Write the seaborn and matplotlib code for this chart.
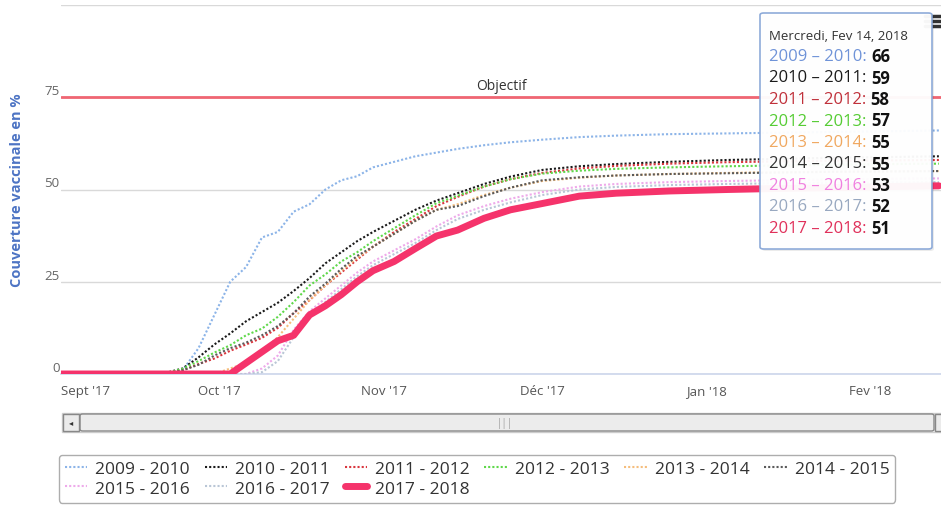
import pandas as pd
import numpy as np
import matplotlib
matplotlib.use("Agg")
import matplotlib.pyplot as plt
from matplotlib.lines import Line2D
from matplotlib.patches import FancyBboxPatch, Rectangle
import seaborn as sns

# --- data (couverture vaccinale, %) ---
dates = ['2017-09-01', '2017-09-20', '2017-09-24', '2017-09-27', '2017-09-30',
         '2017-10-03', '2017-10-06', '2017-10-09', '2017-10-12', '2017-10-15',
         '2017-10-18', '2017-10-21', '2017-10-24', '2017-10-27', '2017-10-30',
         '2017-11-03', '2017-11-07', '2017-11-11', '2017-11-15', '2017-11-20',
         '2017-11-25', '2017-12-01', '2017-12-08', '2017-12-15', '2017-12-25',
         '2018-01-05', '2018-01-15', '2018-01-25', '2018-02-05', '2018-02-14']

s_2009_2010 = [0, 0, 1, 7, 16, 25, 29, 37, 38.5, 44, 46, 50, 52.5, 53.6, 56,
               57.5, 59, 60, 61, 62, 62.8, 63.5, 64.2, 64.6, 65, 65.2, 65.4, 65.6, 65.8, 66]
s_2010_2011 = [0, 0, 1.5, 4.5, 8, 11, 14.3, 16.8, 19.3, 22.5, 26, 30, 33, 36, 38.5,
               41.5, 44.5, 47, 49, 51.5, 53.5, 55.3, 56.3, 56.9, 57.5, 58, 58.3, 58.6, 58.8, 59]
s_2011_2012 = [0, 0, 1, 2.7, 4.2, 6.3, 8, 9.8, 12.5, 16.5, 20, 24, 27.5, 31, 34.5,
               38.5, 42, 45.5, 48, 50.8, 52.8, 54.5, 55.7, 56.4, 57, 57.4, 57.6, 57.8, 57.9, 58]
s_2012_2013 = [0, 0, 1.4, 3.5, 5.8, 7.8, 10.5, 12.3, 15.5, 19.5, 24, 27, 30.5, 33, 36,
               39.5, 43, 46.3, 48.3, 50.8, 52.8, 54.3, 55.1, 55.6, 56, 56.3, 56.5, 56.7, 56.9, 57]
s_2013_2014 = [0, 0, 0, 0, 0, 1.5, 3, 6, 10, 15, 20, 24, 28, 31.5, 34.5,
               38, 41.5, 44.5, 46, 48.5, 50.5, 52.3, 53.2, 53.8, 54.2, 54.5, 54.7, 54.8, 54.9, 55]
s_2014_2015 = [0, 0, 1, 2.5, 5, 7, 8.5, 10.5, 13, 16.5, 21, 24.5, 28.5, 32, 34.5,
               38, 41.5, 44.5, 45.5, 48.2, 50.5, 52.5, 53.3, 53.8, 54.2, 54.4, 54.6, 54.8, 54.9, 55]
s_2015_2016 = [0, 0, 0, 0, 0, 0, 0, 1.5, 5, 12, 17, 20.5, 24, 27.5, 30.5,
               33.5, 36.5, 40, 43, 45.5, 47.5, 49.3, 50.8, 51.5, 52, 52.3, 52.5, 52.7, 52.9, 53]
s_2016_2017 = [0, 0, 0, 0, 0, 0, 0, 0.5, 3.5, 10, 16, 19.5, 23, 26.5, 29.5,
               32.5, 35.5, 39, 42, 44.5, 46.5, 48.5, 50, 50.7, 51.2, 51.5, 51.7, 51.8, 51.9, 52]
s_2017_2018 = [0, 0, 0, 0, 0, 0, 3, 6, 9, 10.5, 16, 18.5, 21.5, 25, 28,
               30.5, 34, 37.4, 39, 42.2, 44.5, 46.2, 48.2, 49, 49.6, 50, 50.3, 50.5, 50.8, 51]

saisons = ['2009 - 2010', '2010 - 2011', '2011 - 2012', '2012 - 2013', '2013 - 2014',
           '2014 - 2015', '2015 - 2016', '2016 - 2017', '2017 - 2018']
tooltip_values = [66, 59, 58, 57, 55, 55, 53, 52, 51]

month_ticks = ['2017-09-01', '2017-10-01', '2017-11-01', '2017-12-01', '2018-01-01', '2018-02-01']
month_labels = ["Sept '17", "Oct '17", "Nov '17", "Déc '17", "Jan '18", "Fev '18"]
objectif = 75

# --- styling ---
colors = ['#8cb4e8', '#1a1a1a', '#d9363e', '#5fd84a', '#f5bd7c',
          '#5a5a5a', '#eeaaea', '#b9c6d6', '#f5336b']
tip_colors = ['#6f93d8', '#1a1a1a', '#c0303a', '#55cc33', '#f0a860',
              '#333333', '#f080e0', '#98a8c0', '#e0305a']

W, H = 941, 506


def fx(px):
    return px / W


def fy(py):
    return 1 - py / H


sns.set_style("white")
plt.rcParams['font.family'] = ['Open Sans', 'DejaVu Sans']

all_series = [s_2009_2010, s_2010_2011, s_2011_2012, s_2012_2013, s_2013_2014,
              s_2014_2015, s_2015_2016, s_2016_2017, s_2017_2018]
df = pd.concat([pd.DataFrame({'date': pd.to_datetime(dates), 'couverture': vals, 'saison': name})
                for name, vals in zip(saisons, all_series)], ignore_index=True)

palette = dict(zip(saisons, colors))
dashes = {s: (1, 1) for s in saisons}
dashes['2017 - 2018'] = ''
sizes = {s: 1.5 for s in saisons}
sizes['2017 - 2018'] = 5

fig = plt.figure(figsize=(W / 100, H / 100), dpi=100)
ax = fig.add_axes([fx(61), fy(375), fx(880), 369 / H])

ax.axhline(objectif, color='#f06673', lw=2, zorder=1)
ax.annotate('Objectif', xy=(0.5, objectif), xycoords=('axes fraction', 'data'),
            xytext=(0, 3), textcoords='offset points', ha='center', va='bottom',
            fontsize=10, color='#333333')

sns.lineplot(data=df, x='date', y='couverture', hue='saison', hue_order=saisons,
             palette=palette, style='saison', dashes=dashes, size='saison',
             sizes=sizes, estimator=None, legend=False, ax=ax, zorder=3)

start = pd.Timestamp('2017-09-01')
ax.set_xlim(start, start + pd.Timedelta(days=166.4))
ax.set_ylim(0, 100)
ax.set_xlabel('')
ax.set_ylabel('')

for sp in ['top', 'right', 'left']:
    ax.spines[sp].set_visible(False)
ax.spines['bottom'].set_color('#ccd6eb')
ax.spines['bottom'].set_linewidth(1.2)
ax.yaxis.grid(True, color='#d9d9d9', lw=1)
ax.xaxis.grid(False)
ax.set_axisbelow(True)

ax.set_yticks([0, 25, 50, 75, 100])
ax.set_yticklabels(['0', '25', '50', '75', ''])
ax.tick_params(axis='y', length=0, pad=1, labelsize=9.5, labelcolor='#666666')
for lbl in ax.get_yticklabels():
    lbl.set_va('bottom')

ax.set_xticks(pd.to_datetime(month_ticks))
ax.set_xticklabels(month_labels)
ax.tick_params(axis='x', length=6, width=1, color='#ccd6eb', pad=1.5,
               labelsize=9.5, labelcolor='#555555')
ax.get_xticklabels()[0].set_ha('left')

fig.text(fx(17), fy(190), 'Couverture vaccinale en %', rotation=90, ha='center',
         va='center', fontsize=10.5, fontweight='bold', color='#4d74c4')

# menu icon (mostly hidden behind tooltip)
for yy in [17, 22, 27]:
    fig.add_artist(Line2D([fx(925), fx(941)], [fy(yy), fy(yy)], color='#333333',
                          lw=2.5, zorder=4))

# tooltip
fig.add_artist(FancyBboxPatch((fx(762), fy(252)), fx(172), 236 / H,
                              boxstyle='round,pad=0,rounding_size=0.004',
                              transform=fig.transFigure, facecolor='#000000',
                              alpha=0.08, edgecolor='none', zorder=5))
fig.add_artist(FancyBboxPatch((fx(760), fy(250)), fx(172), 236 / H,
                              boxstyle='round,pad=0,rounding_size=0.004',
                              transform=fig.transFigure, facecolor='white',
                              alpha=0.96, edgecolor='#8aa8d8', lw=1.2, zorder=6))
fig.text(fx(769), fy(37), 'Mercredi, Fev 14, 2018', fontsize=9.5, color='#333333',
         ha='left', va='center', zorder=7)
tip_labels = []
for i, (name, col) in enumerate(zip(saisons, tip_colors)):
    t = fig.text(fx(769), fy(57 + i * 21.5), name.replace('-', '–') + ': ', fontsize=12,
                 color=col, ha='left', va='center', zorder=7)
    tip_labels.append(t)

# place bold values right after each label
fig.canvas.draw()
renderer = fig.canvas.get_renderer()
for t, val in zip(tip_labels, tooltip_values):
    bb = t.get_window_extent(renderer)
    fig.text(bb.x1 / W, t.get_position()[1], str(val), fontsize=12,
             fontweight='bold', color='#111111', ha='left', va='center', zorder=7)

# scrollbar
fig.add_artist(Rectangle((fx(62), fy(433)), fx(879), 19 / H, transform=fig.transFigure,
                         facecolor='#f2f2f2', edgecolor='#cccccc', lw=1, zorder=4))
fig.add_artist(FancyBboxPatch((fx(80), fy(432)), fx(854), 17 / H,
                              boxstyle='round,pad=0,rounding_size=0.003',
                              transform=fig.transFigure, facecolor='#ececec',
                              edgecolor='#888888', lw=1, zorder=5))
fig.add_artist(Rectangle((fx(63), fy(432)), fx(16), 17 / H, transform=fig.transFigure,
                         facecolor='#ebebeb', edgecolor='#888888', lw=1, zorder=5))
fig.add_artist(Rectangle((fx(935), fy(432)), fx(10), 17 / H, transform=fig.transFigure,
                         facecolor='#ebebeb', edgecolor='#888888', lw=1, zorder=5))
fig.text(fx(71), fy(423.5), '◂', fontsize=6, color='#333333', ha='center', va='center', zorder=6)
fig.text(fx(505), fy(423.5), '|||', fontsize=7, color='#999999', ha='center', va='center', zorder=6)

# legend (row-major order with 6 columns)
handles = []
for name, col in zip(saisons, colors):
    if name == '2017 - 2018':
        handles.append(Line2D([], [], color=col, lw=5))
    else:
        handles.append(Line2D([], [], color=col, lw=1.5, dashes=(1, 1)))
order = [0, 6, 1, 7, 2, 8, 3, 4, 5]
leg = fig.legend([handles[i] for i in order], [saisons[i] for i in order],
                 loc='upper left', bbox_to_anchor=(fx(50), fy(447)), ncol=6,
                 frameon=True, fancybox=True, fontsize=12.5, handlelength=1.3,
                 handletextpad=0.45, columnspacing=0.85, borderpad=0.35,
                 labelspacing=0.2, labelcolor='#333333')
leg.get_frame().set_edgecolor('#999999')
leg.get_frame().set_linewidth(1)

fig.savefig('out.png', dpi=100)
